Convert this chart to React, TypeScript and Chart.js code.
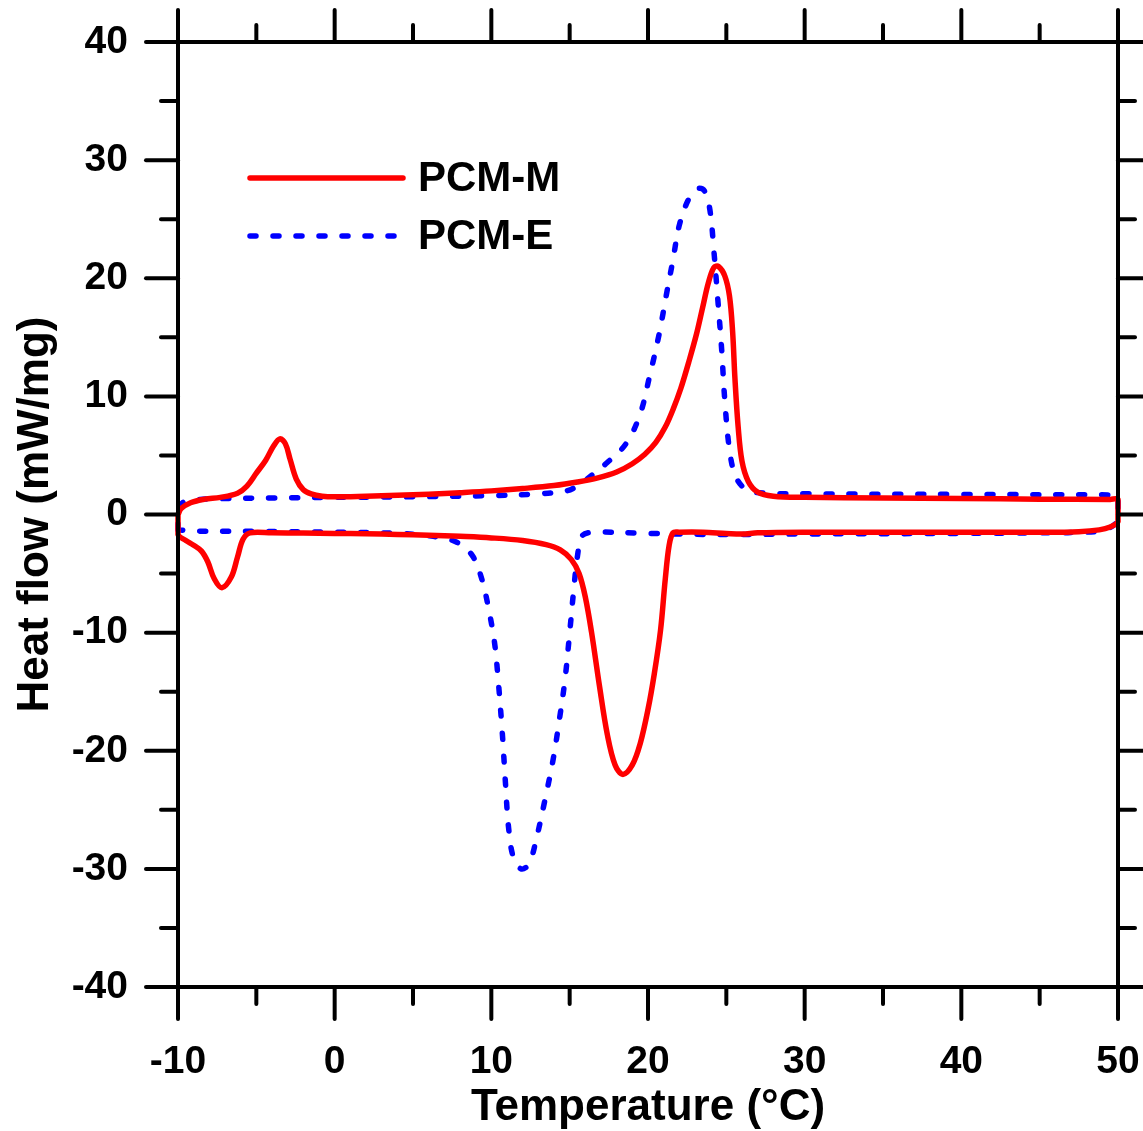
import React, { useEffect, useRef } from 'react';
import { Chart, registerables } from 'chart.js';

Chart.register(...registerables);

const FONT = '"Liberation Sans", Arial, Helvetica, sans-serif';

const seriesNames = ['PCM-M', 'PCM-E'];
const xTitle = 'Temperature (°C)';
const yTitle = 'Heat flow (mW/mg)';

// PCM-M loop: heating branch (left→right), then cooling branch (right→left)
const mTemp = [
  -10, -9.8, -9.2, -8.3, -7.3, -6.2, -5.6, -5.0, -4.4, -3.9, -3.5, -3.15, -2.85, -2.45, -2.0, -1.5, -0.8,
  0, 2, 4, 6, 8, 10, 12, 14, 15.5, 16.8, 18, 19, 19.8, 20.5, 21.1, 21.6, 22.1, 22.6, 23.1, 23.5, 23.85,
  24.2, 24.5, 24.9, 25.2, 25.4, 25.55, 25.75, 26.0, 26.4, 27.0, 28.0, 30, 35, 40, 45, 49.5, 50,
  50, 49.5, 48.8, 47.5, 45, 40, 35, 30, 27, 26, 25, 23.5, 22, 21.6, 21.35, 21.1, 20.8, 20.4, 20.0, 19.5,
  19.0, 18.4, 17.9, 17.4, 16.9, 16.4, 16.0, 15.6, 15.1, 14.4, 13.5, 12, 10, 8, 6, 4, 2, 0, -2, -4, -5.4,
  -5.85, -6.2, -6.6, -7.2, -7.7, -8.1, -8.5, -9.0, -9.5, -10, -10,
];
const mHeat = [
  0.0, 0.5, 1.0, 1.3, 1.45, 1.8, 2.4, 3.5, 4.6, 5.8, 6.4, 6.0, 4.7, 3.0, 2.1, 1.75, 1.55,
  1.5, 1.55, 1.62, 1.72, 1.85, 2.0, 2.2, 2.45, 2.75, 3.1, 3.6, 4.3, 5.1, 6.1, 7.4, 8.9, 10.7, 12.9, 15.3, 17.6, 19.6,
  20.9, 21.0, 20.2, 18.5, 15.5, 11.5, 7.5, 4.5, 2.8, 1.9, 1.55, 1.45, 1.4, 1.35, 1.3, 1.28, 1.27,
  -0.6, -1.05, -1.3, -1.45, -1.5, -1.5, -1.5, -1.5, -1.55, -1.65, -1.6, -1.5, -1.5, -1.55, -2.6, -5.5, -9.8, -13.5, -16.5, -19.4,
  -21.2, -22.0, -21.2, -18.6, -14.5, -10.0, -7.0, -5.0, -3.8, -3.0, -2.55, -2.2, -1.98, -1.85, -1.75, -1.69, -1.63, -1.6, -1.57, -1.55, -1.55,
  -2.1, -3.6, -5.3, -6.2, -5.4, -4.0, -3.1, -2.6, -2.2, -1.7, 0.0,
];

// PCM-E loop
const eTemp = [
  -10, -10, -9.7, -8.8, -7, -4, 0, 5, 10, 13, 14.8, 15.6, 16.2, 17.4, 18.6, 19.5, 20.1, 20.7, 21.2, 21.6,
  22.0, 22.6, 23.2, 23.6, 23.95, 24.2, 24.45, 24.7, 24.9, 25.2, 25.6, 26.3, 27.5, 30, 40, 49.5, 50,
  50, 49.5, 48.5, 45, 40, 30, 25, 20, 16.5, 15.8, 15.5, 15.25, 15.0, 14.7, 14.35, 13.95, 13.4, 12.9, 12.4,
  11.9, 11.4, 11.1, 10.9, 10.7, 10.45, 10.2, 9.8, 9.4, 8.8, 7.8, 6.3, 4, 0, -5, -9, -10,
];
const eHeat = [
  -1.3, 0.3, 1.0, 1.25, 1.35, 1.4, 1.45, 1.5, 1.6, 1.75, 2.0, 2.5, 3.1, 4.4, 6.0, 8.5, 11.7, 15.2, 18.8, 21.6,
  24.5, 26.7, 27.6, 27.4, 25.8, 22.4, 18.3, 14.0, 9.7, 5.5, 3.2, 2.1, 1.8, 1.75, 1.7, 1.66, 1.64,
  -0.4, -1.1, -1.45, -1.55, -1.6, -1.65, -1.7, -1.6, -1.5, -1.8, -3.5, -6.5, -10.0, -14.0, -17.3, -20.7, -24.3, -27.3, -29.6,
  -30.0, -29.0, -26.5, -22.7, -18.5, -14.2, -10.8, -7.8, -5.5, -3.5, -2.35, -1.85, -1.6, -1.5, -1.42, -1.4, -1.3,
];

const xMajorTicks = [-10, 0, 10, 20, 30, 40, 50];
const xMinorTicks = [-5, 5, 15, 25, 35, 45];
const yMajorTicks = [-40, -30, -20, -10, 0, 10, 20, 30, 40];
const yMinorTicks = [-35, -25, -15, -5, 5, 15, 25, 35];

const RED = '#ff0000';
const BLUE = '#0000ff';
const BLUE_DASH = [6, 17];

const zeroPad = (s: any) => {
  s.paddingLeft = 0;
  s.paddingRight = 0;
  s.paddingTop = 0;
  s.paddingBottom = 0;
};

const framePlugin = {
  id: 'frameTicksLegend',
  afterDraw(chart: any) {
    const { ctx, chartArea } = chart;
    const { left, right, top, bottom } = chartArea;
    const xs = chart.scales.x;
    const ys = chart.scales.y;
    ctx.save();
    ctx.strokeStyle = '#000';
    ctx.lineWidth = 4;
    ctx.lineCap = 'round';
    const seg = (x1: number, y1: number, x2: number, y2: number) => {
      ctx.beginPath();
      ctx.moveTo(x1, y1);
      ctx.lineTo(x2, y2);
      ctx.stroke();
    };
    const MAJ = 32;
    const MIN = 17;
    xMajorTicks.forEach((v) => {
      const p = xs.getPixelForValue(v);
      seg(p, bottom, p, bottom + MAJ);
      seg(p, top, p, top - MAJ);
    });
    xMinorTicks.forEach((v) => {
      const p = xs.getPixelForValue(v);
      seg(p, bottom, p, bottom + MIN);
      seg(p, top, p, top - MIN);
    });
    yMajorTicks.forEach((v) => {
      const p = ys.getPixelForValue(v);
      seg(left, p, left - MAJ, p);
      seg(right, p, right + MAJ, p);
    });
    yMinorTicks.forEach((v) => {
      const p = ys.getPixelForValue(v);
      seg(left, p, left - MIN, p);
      seg(right, p, right + MIN, p);
    });
    ctx.lineCap = 'butt';
    ctx.lineJoin = 'miter';
    ctx.strokeRect(left, top, right - left, bottom - top);

    // legend
    const lx1 = left + 72;
    const lx2 = left + 225;
    const ly = [top + 136, top + 194];
    const ds = chart.data.datasets;
    ctx.lineCap = 'round';
    for (let i = 0; i < 2; i++) {
      ctx.strokeStyle = ds[i].borderColor;
      ctx.lineWidth = ds[i].borderWidth;
      ctx.setLineDash(ds[i].borderDash || []);
      seg(lx1, ly[i], lx2, ly[i]);
      ctx.setLineDash([]);
      ctx.fillStyle = '#000';
      ctx.font = `bold 42px ${FONT}`;
      ctx.textAlign = 'left';
      ctx.textBaseline = 'middle';
      ctx.fillText(seriesNames[i], lx2 + 15, ly[i] + 1);
    }
    ctx.restore();
  },
};

export default function App() {
  const ref = useRef<HTMLCanvasElement>(null);
  useEffect(() => {
    document.body.style.margin = '0';
    const canvas = ref.current!;
    const chart = new Chart(canvas, {
      type: 'line',
      data: {
        datasets: [
          {
            label: seriesNames[0],
            data: mTemp.map((t, i) => ({ x: t, y: mHeat[i] })),
            borderColor: RED,
            backgroundColor: RED,
            borderWidth: 5.5,
            pointRadius: 0,
            tension: 0.35,
            fill: false,
            clip: 8,
            borderCapStyle: 'round',
            borderJoinStyle: 'round',
          },
          {
            label: seriesNames[1],
            data: eTemp.map((t, i) => ({ x: t, y: eHeat[i] })),
            borderColor: BLUE,
            backgroundColor: BLUE,
            borderWidth: 5.5,
            borderDash: BLUE_DASH,
            pointRadius: 0,
            tension: 0.35,
            fill: false,
            clip: 8,
            borderCapStyle: 'round',
            borderJoinStyle: 'round',
          },
        ],
      },
      options: {
        animation: false,
        responsive: false,
        maintainAspectRatio: false,
        layout: { padding: { top: 42, right: 25, left: 0, bottom: 0 } },
        plugins: { legend: { display: false }, tooltip: { enabled: false } },
        scales: {
          x: {
            type: 'linear',
            min: -10,
            max: 50,
            afterFit: (s: any) => { s.height = 144; zeroPad(s); },
            border: { display: false },
            grid: { display: false, drawTicks: false },
            ticks: {
              stepSize: 10,
              autoSkip: false,
              maxRotation: 0,
              padding: 52,
              color: '#000',
              font: { family: FONT, size: 39, weight: 'bold' },
            },
            title: {
              display: true,
              text: xTitle,
              color: '#000',
              font: { family: FONT, size: 44, weight: 'bold', lineHeight: 1.0 },
              padding: { top: 0, bottom: 1 },
            },
          },
          y: {
            type: 'linear',
            min: -40,
            max: 40,
            afterFit: (s: any) => { s.width = 178; zeroPad(s); },
            border: { display: false },
            grid: { display: false, drawTicks: false },
            ticks: {
              stepSize: 10,
              autoSkip: false,
              padding: 50,
              color: '#000',
              font: { family: FONT, size: 39, weight: 'bold' },
            },
            title: {
              display: true,
              text: yTitle,
              color: '#000',
              font: { family: FONT, size: 44, weight: 'bold' },
              padding: { top: 9, bottom: 0 },
            },
          },
        },
      },
      plugins: [framePlugin],
    } as any);
    return () => chart.destroy();
  }, []);
  return (
    <div style={{ position: 'absolute', left: 0, top: 0, width: 1143, height: 1131, background: '#fff' }}>
      <canvas ref={ref} width={1143} height={1131} style={{ display: 'block' }} />
    </div>
  );
}
